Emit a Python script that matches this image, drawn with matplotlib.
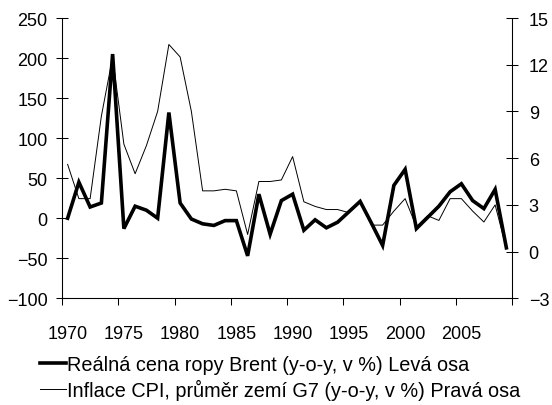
import matplotlib
matplotlib.use("Agg")
import matplotlib.pyplot as plt
import numpy as np

plt.rcParams['font.family'] = ['Liberation Sans', 'DejaVu Sans']

years = list(range(1970, 2010))
brent = [0, 45, 14, 19, 205, -13, 15, 10, 0, 132,
         19, -1, -7, -9, -3, -3, -47, 30, -20, 22,
         30, -15, -2, -12, -5, 8, 21, -6, -34, 41,
         61, -13, 1, 15, 33, 43, 22, 12, 36, -37]
cpi = [5.6, 3.4, 3.4, 8.7, 12.5, 6.9, 5.0, 6.8, 9.0, 13.3,
       12.5, 9.0, 3.9, 3.9, 4.0, 3.9, 1.1, 4.5, 4.5, 4.6,
       6.1, 3.2, 2.9, 2.7, 2.7, 2.5, 3.2, 1.7, 1.7, 2.6,
       3.4, 1.6, 2.3, 2.0, 3.4, 3.4, 2.6, 1.9, 3.0, 0.2]
xlabels = ['1970', '1975', '1980', '1985', '1990', '1995', '2000', '2005']
label_brent = 'Reálná cena ropy Brent (y-o-y, v %) Levá osa'
label_cpi = 'Inflace CPI, průměr zemí G7 (y-o-y, v %) Pravá osa'

fig = plt.figure(figsize=(5.52, 4.06), dpi=100)
ax = fig.add_axes([62/552, 1-299.3/406, 450/552, 280.3/406])
ax2 = ax.twinx()

l1, = ax.plot(years, brent, color='black', lw=2.6, solid_joinstyle='miter', zorder=3)
l2, = ax2.plot(years, cpi, color='black', lw=0.7, zorder=2)
ax.set_zorder(ax2.get_zorder() + 1)
ax.patch.set_visible(False)

ax.set_xlim(1969.5, 2009.5)
ax.set_ylim(-100, 250)
ax2.set_ylim(-3, 15)
ax.set_yticks(np.arange(-100, 251, 50))
ax2.set_yticks(np.arange(-3, 16, 3))

ax.set_xticks(np.arange(1969.5, 2010, 5))
ax.set_xticklabels([])
ax.set_xticks([int(s) for s in xlabels], minor=True)
ax.set_xticklabels(xlabels, minor=True)
ax.tick_params(axis='x', which='major', direction='out', length=5, width=0.75)
ax.tick_params(axis='x', which='minor', length=0, pad=19, labelsize=13)

ax.tick_params(axis='y', direction='inout', length=9, width=0.75, pad=6, labelsize=13)
ax2.tick_params(axis='y', direction='inout', length=9, width=0.75, pad=7.5, labelsize=13)

for a in (ax, ax2):
    a.spines['top'].set_visible(False)
    for s in ('left', 'right', 'bottom'):
        a.spines[s].set_linewidth(0.75)

leg = fig.legend([l1, l2], [label_brent, label_cpi], loc='upper left',
                 bbox_to_anchor=(40/552, 1-356/406), frameon=False, fontsize=14.3,
                 handlelength=1.3, handletextpad=0.08, labelspacing=0.25, borderaxespad=0,
                 borderpad=0)

fig.savefig('out.png', dpi=100)
